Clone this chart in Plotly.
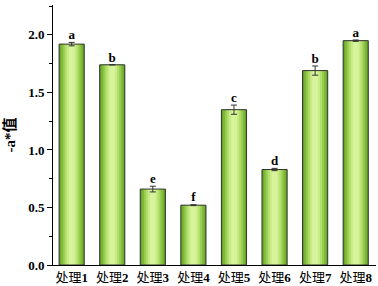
import plotly.graph_objects as go

categories = ["处理1", "处理2", "处理3", "处理4", "处理5", "处理6", "处理7", "处理8"]
values = [1.92, 1.74, 0.66, 0.52, 1.35, 0.83, 1.69, 1.95]
errors = [0.015, 0.0, 0.025, 0.004, 0.04, 0.01, 0.04, 0.006]
letters = ["a", "b", "e", "f", "c", "d", "b", "a"]
y_ticks = [0.0, 0.5, 1.0, 1.5, 2.0]

serif = "Liberation Serif, Times New Roman, Noto Sans CJK SC, serif"
xs = list(range(len(categories)))

fig = go.Figure()
# gradient simulated by layered overlay bars (outer dark -> inner light)
layers = [
    (0.62, "#64a326"),
    (0.54, "#7db837"),
    (0.44, "#98cc50"),
    (0.34, "#b2de6b"),
    (0.24, "#c7eb85"),
    (0.14, "#d7f49d"),
]
for w, c in layers:
    fig.add_trace(go.Bar(
        x=xs, y=values, width=w,
        marker=dict(color=c, line=dict(color=c, width=0)),
        hoverinfo="skip", showlegend=False,
    ))
# outline on top
fig.add_trace(go.Bar(
    x=xs, y=values, width=0.62,
    marker=dict(color="rgba(0,0,0,0)", line=dict(color="#333333", width=1)),
    hoverinfo="skip", showlegend=False,
))
# error bars
fig.add_trace(go.Scatter(
    x=xs, y=values, mode="markers", marker=dict(size=0.1, color="rgba(0,0,0,0)"),
    error_y=dict(type="data", array=errors, color="#333333", thickness=1, width=3),
    showlegend=False, hoverinfo="skip",
))
# letters
fig.add_trace(go.Scatter(
    x=xs, y=[v + e for v, e in zip(values, errors)], mode="text",
    text=[f"<b>{t}</b>" for t in letters],
    textposition="top center", textfont=dict(family=serif, size=13, color="black"),
    showlegend=False, hoverinfo="skip",
))

fig.update_layout(
    width=378, height=286,
    margin=dict(l=53, r=2, t=5, b=21),
    barmode="overlay",
    plot_bgcolor="white", paper_bgcolor="white",
    xaxis=dict(
        range=[-0.46, 7.5], tickmode="array", tickvals=xs,
        ticktext=[f"{c[:-1]}<b>{c[-1]}</b>" for c in categories],
        showline=True, linecolor="black", linewidth=1, ticks="", showgrid=False,
        zeroline=False,
        tickfont=dict(family=serif, size=13, color="black"),
    ),
    yaxis=dict(
        range=[0, 2.26], tickmode="array", tickvals=y_ticks,
        ticktext=[f"<b>{t:.1f}</b>" for t in y_ticks],
        showline=True, linecolor="black", linewidth=1, ticks="outside",
        ticklen=5, tickcolor="black", showgrid=False, zeroline=False,
        tickfont=dict(family=serif, size=13, color="black"),
        minor=dict(tickvals=[0.25, 0.75, 1.25, 1.75, 2.25], ticks="outside",
                   ticklen=3, tickcolor="black"),
        title=dict(text="<b>-a*值</b>", font=dict(family=serif, size=15, color="black"),
                   standoff=8),
    ),
)
fig.write_html("out.html", config={"displayModeBar": False},
               post_script="document.body.style.margin='0';document.body.style.padding='0';")
